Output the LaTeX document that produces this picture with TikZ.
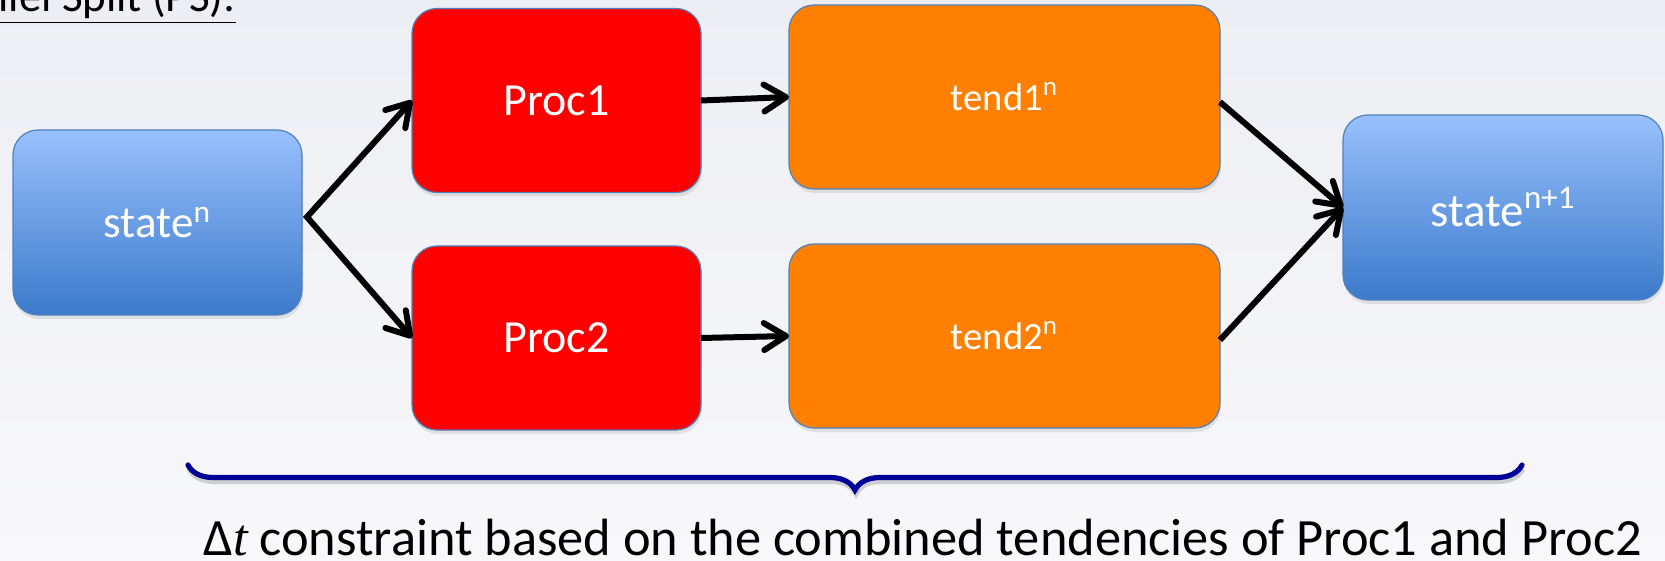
\documentclass[tikz,border=0pt]{standalone}
\usepackage{fontspec}
\setmainfont{Carlito}
\newfontfamily\serifit{Liberation Serif}
\usetikzlibrary{arrows.meta,shadows,decorations.pathreplacing,calc}
\definecolor{bgtop}{HTML}{EDEEF3}
\definecolor{bgbot}{HTML}{F8F8FA}
\definecolor{boxline}{HTML}{4F81BD}
\definecolor{bluetop}{HTML}{98C0FD}
\definecolor{bluebot}{HTML}{3B7ACA}
\definecolor{procred}{HTML}{FF0000}
\definecolor{tendorange}{HTML}{FF8000}
\definecolor{bracecol}{HTML}{000099}
\tikzset{
  boxbase/.style={rectangle, rounded corners=12.5pt, draw=boxline, line width=0.6pt,
    inner sep=0pt, outer sep=0pt, text=white,
    drop shadow={opacity=0.18, shadow xshift=0.5pt, shadow yshift=-2pt}},
  bluebox/.style={boxbase, top color=bluetop, bottom color=bluebot},
  redbox/.style={boxbase, fill=procred, minimum width=144.5pt, minimum height=92pt,
    font=\fontsize{23}{27}\selectfont},
  orangebox/.style={boxbase, fill=tendorange, minimum width=215.5pt, minimum height=92pt,
    font=\fontsize{19.3}{23}\selectfont},
  arr/.style={line width=3pt, black, -{Straight Barb[length=11pt,width=13.5pt,line cap=round,line join=round]}},
  arrboth/.style={line width=3pt, black,
    {Straight Barb[length=11pt,width=13.5pt,line cap=round,line join=round]}-{Straight Barb[length=11pt,width=13.5pt,line cap=round,line join=round]}},
}
\begin{document}
\begin{tikzpicture}[x=0.5pt,y=-0.5pt]
  \useasboundingbox (0,0) rectangle (1665,561);
  \shade[top color=bgtop, bottom color=bgbot] (0,0) rectangle (1665,561);

  % title (cropped at top-left, as in the reference)
  \node[anchor=base east, inner sep=0pt, font=\fontsize{22.5}{26}\selectfont] (title) at (236,12)
    {\underline{Parallel Split (PS):}};

  % nodes
  \node[bluebox, minimum width=144.5pt, minimum height=92.5pt,
        font=\fontsize{22.5}{26}\selectfont] (state) at (157.5,222.5) {state\textsuperscript{n}};
  \node[redbox] (proc1) at (556.5,100.5) {Proc1};
  \node[redbox] (proc2) at (556.5,338) {Proc2};
  \node[orangebox] (tend1) at (1004.5,97) {tend1\textsuperscript{n}};
  \node[orangebox] (tend2) at (1004.5,336) {tend2\textsuperscript{n}};
  \node[bluebox, minimum width=160pt, minimum height=92.5pt,
        font=\fontsize{23.5}{27}\selectfont] (staten1) at (1503,207.5) {state\textsuperscript{n+1}};

  % connectors
  \coordinate (fork) at (307,217);
  \draw[arrboth, line join=miter] (proc1.west) -- (fork) -- (proc2.west);
  \draw[arr] (proc1.east) -- (tend1.west);
  \draw[arr] (proc2.east) -- (tend2.west);
  \draw[arr] ($(tend1.east)+(0,5)$) -- (staten1.west);
  \draw[arr] ($(tend2.east)+(0,4)$) -- (staten1.west);

  % brace
  \coordinate (bl) at (188,465);
  \coordinate (br) at (1522,465);
  \draw[black!35, opacity=0.5, line width=2.5pt, decorate,
        decoration={brace, amplitude=12.5pt, mirror}]
        ($(bl)+(1,4)$) -- ($(br)+(1,4)$);
  \draw[bracecol, line width=2.6pt, line cap=round, decorate,
        decoration={brace, amplitude=12.5pt, mirror}] (bl) -- (br);

  % caption
  \node[anchor=base, inner sep=0pt, font=\fontsize{26.2}{30}\selectfont] (caption) at (923,555.5)
    {Δ{\serifit\itshape t} constraint based on the combined tendencies of Proc1 and Proc2};
\end{tikzpicture}
\end{document}
